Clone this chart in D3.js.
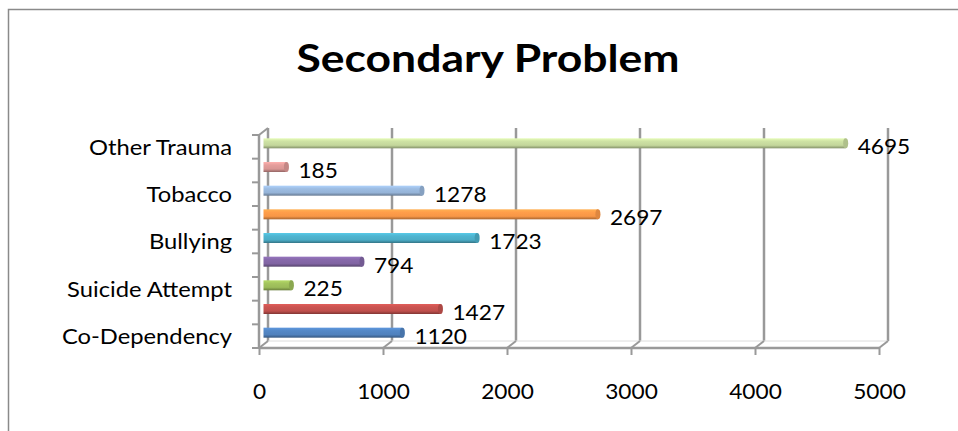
<!DOCTYPE html>
<html>
<head>
<meta charset="utf-8">
<script src="https://cdn.jsdelivr.net/npm/d3@7"></script>
<style>
	body { margin: 0; background: #fff; }
	svg { display: block; }
</style>
</head>
<body>
<div id="chartDiv"></div>
<script>
// chart data, bottom category first
const categories = ["Co-Dependency", "", "Suicide Attempt", "", "Bullying", "", "Tobacco", "", "Other Trauma"];
const values = [1120, 1427, 225, 794, 1723, 2697, 1278, 185, 4695];
const barColors = ["#4F81BD", "#C0504D", "#9BBB59", "#8064A2", "#4BACC6", "#F79646", "#95B3D7", "#D99694", "#C3D69B"];
const xTicks = [0, 1000, 2000, 3000, 4000, 5000];
const titleText = "Secondary Problem";

;(function() {

	var width = 958;
	var height = 431;
	var plot = { left: 259, right: 879, top: 135, bottom: 348 };
	var depth = { dx: 9, dy: -7 };
	var barH = 10;
	var font = "Lato, 'Open Sans', sans-serif";
	var stretch = "scale(1.08,1)";   // Lato is a bit narrower than the original face
	var gridColor = "#999999";

	var chart = d3.select("#chartDiv").append("svg")
		.attr("width", width)
		.attr("height", height);

	// outer chart border (right and bottom edges fall off the picture)
	chart.append("rect")
		.attr("x", 8.5).attr("y", 9.5)
		.attr("width", 1000).attr("height", 1000)
		.attr("fill", "none")
		.attr("stroke", "#8a8a8a")
		.attr("stroke-width", 1.5);

	chart.append("text")
		.attr("transform", "translate(488,72) scale(1.14,1)")
		.attr("text-anchor", "middle")
		.style("font-family", font)
		.style("font-weight", "bold")
		.style("font-size", "39px")
		.text(titleText);

	var xScale = d3.scaleLinear()
		.domain([xTicks[0], xTicks[xTicks.length - 1]])
		.range([plot.left, plot.right]);

	var yScale = d3.scaleBand()
		.domain(d3.range(categories.length))
		.range([plot.bottom, plot.top]);

	var defs = chart.append("defs");
	barColors.forEach(function(c, i) {
		var g = defs.append("linearGradient")
			.attr("id", "bar" + i)
			.attr("x1", 0).attr("y1", 0).attr("x2", 0).attr("y2", 1);
		var base = d3.color(c);
		g.append("stop").attr("offset", "0%").attr("stop-color", base.brighter(0.45));
		g.append("stop").attr("offset", "30%").attr("stop-color", base.brighter(0.15));
		g.append("stop").attr("offset", "70%").attr("stop-color", base);
		g.append("stop").attr("offset", "100%").attr("stop-color", base.darker(1.1));
	});

	// back wall gridlines
	chart.append("g").selectAll("line")
		.data(xTicks)
		.enter().append("line")
			.attr("x1", d => xScale(d) + depth.dx)
			.attr("x2", d => xScale(d) + depth.dx)
			.attr("y1", plot.top + depth.dy)
			.attr("y2", plot.bottom + depth.dy)
			.attr("stroke", gridColor)
			.attr("stroke-width", 2.5);

	// floor: front edge and slanted joints
	chart.append("line")
		.attr("x1", plot.left).attr("x2", plot.right)
		.attr("y1", plot.bottom).attr("y2", plot.bottom)
		.attr("stroke", gridColor).attr("stroke-width", 2.5);
	chart.append("line")
		.attr("x1", plot.left + depth.dx).attr("x2", plot.right + depth.dx)
		.attr("y1", plot.bottom + depth.dy).attr("y2", plot.bottom + depth.dy)
		.attr("stroke", "#dcdcdc").attr("stroke-width", 1);
	chart.append("g").selectAll("line")
		.data(xTicks)
		.enter().append("line")
			.attr("x1", d => xScale(d))
			.attr("x2", d => xScale(d) + depth.dx)
			.attr("y1", plot.bottom)
			.attr("y2", plot.bottom + depth.dy)
			.attr("stroke", gridColor)
			.attr("stroke-width", 2);

	// side wall front edge with top joint
	chart.append("line")
		.attr("x1", plot.left).attr("x2", plot.left)
		.attr("y1", plot.top).attr("y2", plot.bottom)
		.attr("stroke", gridColor).attr("stroke-width", 2.5);
	chart.append("line")
		.attr("x1", plot.left).attr("x2", plot.left + depth.dx)
		.attr("y1", plot.top).attr("y2", plot.top + depth.dy)
		.attr("stroke", gridColor).attr("stroke-width", 2);

	// category boundary ticks
	var bounds = d3.range(categories.length + 1).map(i => plot.bottom - i * yScale.step());
	chart.append("g").selectAll("line")
		.data(bounds)
		.enter().append("line")
			.attr("x1", plot.left - 7).attr("x2", plot.left)
			.attr("y1", d => d).attr("y2", d => d)
			.attr("stroke", gridColor).attr("stroke-width", 2);

	// x axis
	var xAxis = d3.axisBottom(xScale)
		.tickValues(xTicks)
		.tickSize(7)
		.tickPadding(29)
		.tickFormat(d3.format("d"));
	var xAxisContainer = chart.append("g")
		.attr("class", "x axis")
		.attr("transform", "translate(0," + plot.bottom + ")")
		.call(xAxis);
	xAxisContainer.select(".domain").remove();
	xAxisContainer.selectAll(".tick line").attr("stroke", gridColor).attr("stroke-width", 2);
	xAxisContainer.selectAll("text")
		.attr("transform", stretch)
		.style("font-family", font).style("font-size", "21px").attr("fill", "#000");

	// y axis labels
	var yAxis = d3.axisLeft(yScale)
		.tickSize(0)
		.tickPadding(25)
		.tickFormat(i => categories[i]);
	var yAxisContainer = chart.append("g")
		.attr("class", "y axis")
		.attr("transform", "translate(" + plot.left + ",0)")
		.call(yAxis);
	yAxisContainer.select(".domain").remove();
	yAxisContainer.selectAll("text")
		.attr("dy", "0.36em")
		.attr("transform", stretch)
		.style("font-family", font).style("font-size", "22px").attr("fill", "#000");

	// bars at mid depth
	var ox = depth.dx / 2, oy = depth.dy / 2;
	var barMid = i => yScale(i) + yScale.bandwidth() / 2 + oy;
	var bars = chart.append("g").selectAll(".bar")
		.data(values)
		.enter().append("g")
			.attr("class", "bar");

	bars.append("rect")
		.attr("x", xScale(0) + ox)
		.attr("y", (d, i) => barMid(i) - barH / 2)
		.attr("width", d => xScale(d) - xScale(0))
		.attr("height", barH)
		.attr("fill", (d, i) => "url(#bar" + i + ")");

	bars.append("ellipse")
		.attr("cx", d => xScale(d) + ox)
		.attr("cy", (d, i) => barMid(i))
		.attr("rx", 2.5)
		.attr("ry", barH / 2)
		.attr("fill", (d, i) => d3.color(barColors[i]).darker(0.3));

	// value labels
	chart.append("g").selectAll("text")
		.data(values)
		.enter().append("text")
			.attr("transform", (d, i) => "translate(" + (xScale(d) + ox + 12) + "," + (barMid(i) + 11) + ") " + stretch)
			.style("font-family", font)
			.style("font-size", "21px")
			.text(d => d);

})();
</script>
</body>
</html>
